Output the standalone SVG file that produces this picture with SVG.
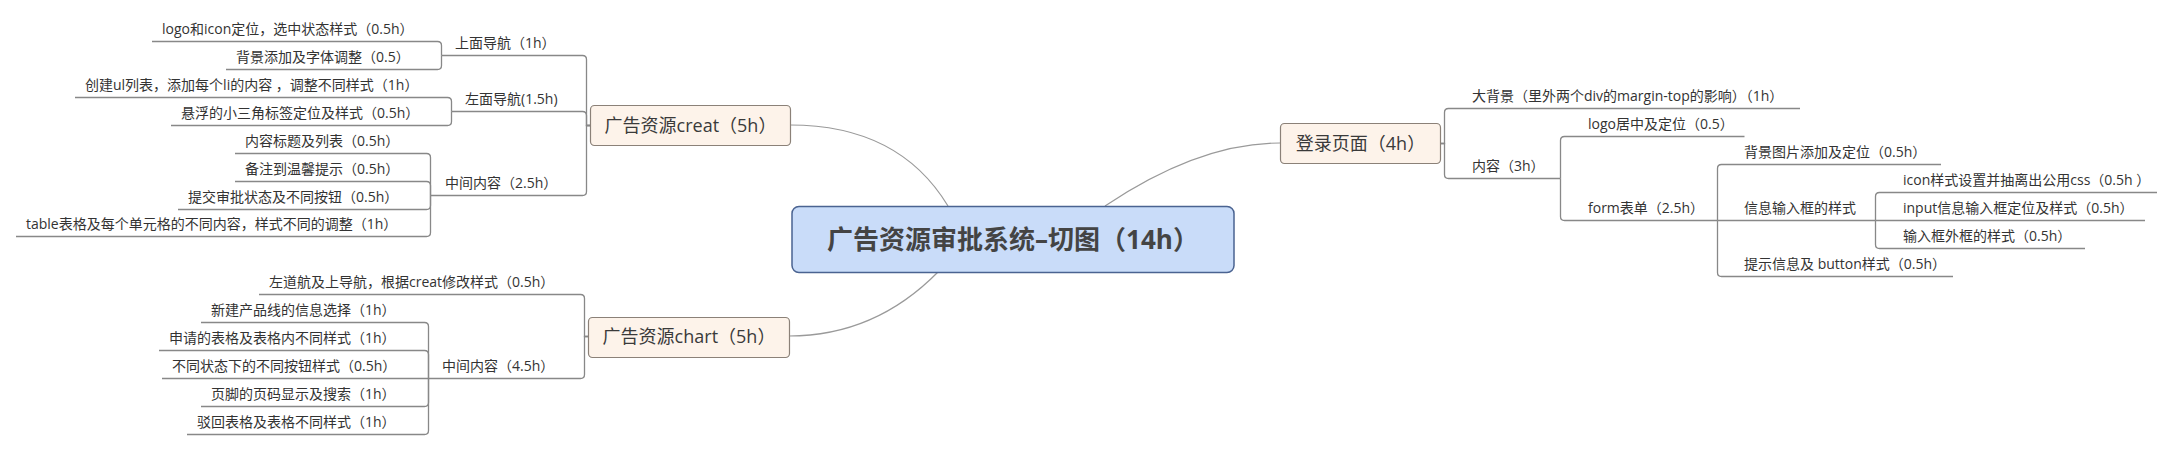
<svg xmlns="http://www.w3.org/2000/svg" width="2173" height="450" viewBox="0 0 2173 450">
<style>
text{font-family:"Open Sans","Noto Sans CJK SC",sans-serif;fill:#333}
.leaf{font-size:14px}
.l1{font-size:18px;fill:#3a3a3a;text-anchor:middle}
.root{font-size:26px;font-weight:bold;fill:#444;text-anchor:middle}
.box{fill:#fdf3ea;stroke:#8b8178;stroke-width:1.2}
.br{fill:none;stroke:#888;stroke-width:1.3}
.cv{fill:none;stroke:#9a9a9a;stroke-width:1.2}
</style>
<rect width="2173" height="450" fill="#fff"/>
<g id="connectors">
<path class="cv" d="M948 206 Q899 125 790 125"/>
<path class="cv" d="M1105 206 Q1199 143 1280 143"/>
<path class="cv" d="M938 272 Q875 336 789 336"/>
<path class="br" d="M590 125.5 H586.5 V59.5 Q586.5 55.5 582.5 55.5 H441.5"/>
<path class="br" d="M590 125.5 H586.5 V115.5 Q586.5 111.5 582.5 111.5 H451.5"/>
<path class="br" d="M590 125.5 H586.5 V191.5 Q586.5 195.5 582.5 195.5 H430.5"/>
<path class="br" d="M441.5 55.5 V45.5 Q441.5 41.5 437.5 41.5 H152"/>
<path class="br" d="M441.5 55.5 V65.5 Q441.5 69.5 437.5 69.5 H226"/>
<path class="br" d="M451.5 111.5 V101.5 Q451.5 97.5 447.5 97.5 H75"/>
<path class="br" d="M451.5 111.5 V121.5 Q451.5 125.5 447.5 125.5 H171"/>
<path class="br" d="M430.5 195.5 V157.5 Q430.5 153.5 426.5 153.5 H235"/>
<path class="br" d="M430.5 195.5 V185.5 Q430.5 181.5 426.5 181.5 H235"/>
<path class="br" d="M430.5 195.5 V205.5 Q430.5 209.5 426.5 209.5 H178"/>
<path class="br" d="M430.5 195.5 V232.5 Q430.5 236.5 426.5 236.5 H16"/>
<path class="br" d="M588 336.5 H584.5 V298.5 Q584.5 294.5 580.5 294.5 H259"/>
<path class="br" d="M588 336.5 H584.5 V374.5 Q584.5 378.5 580.5 378.5 H428.5"/>
<path class="br" d="M428.5 378.5 V326.5 Q428.5 322.5 424.5 322.5 H201"/>
<path class="br" d="M428.5 378.5 V354.5 Q428.5 350.5 424.5 350.5 H159"/>
<path class="br" d="M428.5 378.5 H162"/>
<path class="br" d="M428.5 378.5 V402.5 Q428.5 406.5 424.5 406.5 H201"/>
<path class="br" d="M428.5 378.5 V430.5 Q428.5 434.5 424.5 434.5 H187"/>
<path class="br" d="M1440 143.5 H1444.5 V112.5 Q1444.5 108.5 1448.5 108.5 H1800"/>
<path class="br" d="M1440 143.5 H1444.5 V174.5 Q1444.5 178.5 1448.5 178.5 H1560.5"/>
<path class="br" d="M1560.5 178.5 V140.5 Q1560.5 136.5 1564.5 136.5 H1744.5"/>
<path class="br" d="M1560.5 178.5 V216.5 Q1560.5 220.5 1564.5 220.5 H1717.5"/>
<path class="br" d="M1717.5 220.5 V168.5 Q1717.5 164.5 1721.5 164.5 H1941"/>
<path class="br" d="M1717.5 220.5 H1875.5"/>
<path class="br" d="M1717.5 220.5 V272.5 Q1717.5 276.5 1721.5 276.5 H1953"/>
<path class="br" d="M1875.5 220.5 V196.5 Q1875.5 192.5 1879.5 192.5 H2157"/>
<path class="br" d="M1875.5 220.5 H2145"/>
<path class="br" d="M1875.5 220.5 V244.5 Q1875.5 248.5 1879.5 248.5 H2085"/>
</g>
<g id="root">
<rect x="792" y="206.5" width="442" height="66" rx="7" fill="#c9dcf9" stroke="#4a6391" stroke-width="1.5"/>
<text class="root" x="1013" y="249">广告资源审批系统–切图（14h）</text>
</g>
<g id="creat">
<rect class="box" x="590.5" y="105.5" width="200" height="40" rx="4"/>
<text class="l1" x="690.5" y="131.5">广告资源creat（5h）</text>
</g>
<g id="chart">
<rect class="box" x="588.5" y="317.5" width="201" height="40" rx="4"/>
<text class="l1" x="689" y="343">广告资源chart（5h）</text>
</g>
<g id="login">
<rect class="box" x="1280.5" y="123.5" width="160" height="40" rx="4"/>
<text class="l1" x="1360.5" y="149.5">登录页面（4h）</text>
</g>
<g id="creat-top"><text class="leaf" x="455" y="47.5">上面导航（1h）</text></g>
<g id="creat-top-1"><text class="leaf" x="162" y="33.5">logo和icon定位，选中状态样式（0.5h）</text></g>
<g id="creat-top-2"><text class="leaf" x="236" y="61.5">背景添加及字体调整（0.5）</text></g>
<g id="creat-left"><text class="leaf" x="465" y="103.5">左面导航(1.5h)</text></g>
<g id="creat-left-1"><text class="leaf" x="85" y="89.5">创建ul列表，添加每个li的内容 ，调整不同样式（1h）</text></g>
<g id="creat-left-2"><text class="leaf" x="181" y="117.5">悬浮的小三角标签定位及样式（0.5h）</text></g>
<g id="creat-mid"><text class="leaf" x="445" y="187.5">中间内容（2.5h）</text></g>
<g id="creat-mid-1"><text class="leaf" x="245" y="145.5">内容标题及列表（0.5h）</text></g>
<g id="creat-mid-2"><text class="leaf" x="245" y="173.5">备注到温馨提示（0.5h）</text></g>
<g id="creat-mid-3"><text class="leaf" x="188" y="201.5">提交审批状态及不同按钮（0.5h）</text></g>
<g id="creat-mid-4"><text class="leaf" x="26" y="228.5">table表格及每个单元格的不同内容，样式不同的调整（1h）</text></g>
<g id="chart-nav"><text class="leaf" x="269" y="286.5">左道航及上导航，根据creat修改样式（0.5h）</text></g>
<g id="chart-mid"><text class="leaf" x="442" y="370.5">中间内容（4.5h）</text></g>
<g id="chart-mid-1"><text class="leaf" x="211" y="314.5">新建产品线的信息选择（1h）</text></g>
<g id="chart-mid-2"><text class="leaf" x="169" y="342.5">申请的表格及表格内不同样式（1h）</text></g>
<g id="chart-mid-3"><text class="leaf" x="172" y="370.5">不同状态下的不同按钮样式（0.5h）</text></g>
<g id="chart-mid-4"><text class="leaf" x="211" y="398.5">页脚的页码显示及搜索（1h）</text></g>
<g id="chart-mid-5"><text class="leaf" x="197" y="426.5">驳回表格及表格不同样式（1h）</text></g>
<g id="login-bg"><text class="leaf" x="1472" y="100.5">大背景（里外两个div的margin-top的影响）（1h）</text></g>
<g id="login-content"><text class="leaf" x="1472" y="170.5">内容（3h）</text></g>
<g id="login-logo"><text class="leaf" x="1588" y="128.5">logo居中及定位（0.5）</text></g>
<g id="login-form"><text class="leaf" x="1588" y="212.5">form表单（2.5h）</text></g>
<g id="form-bg"><text class="leaf" x="1744" y="156.5">背景图片添加及定位（0.5h）</text></g>
<g id="form-input"><text class="leaf" x="1744" y="212.5">信息输入框的样式</text></g>
<g id="form-tip"><text class="leaf" x="1744" y="268.5">提示信息及 button样式（0.5h）</text></g>
<g id="input-icon"><text class="leaf" x="1903" y="184.5">icon样式设置并抽离出公用css（0.5h ）</text></g>
<g id="input-pos"><text class="leaf" x="1903" y="212.5">input信息输入框定位及样式（0.5h）</text></g>
<g id="input-frame"><text class="leaf" x="1903" y="240.5">输入框外框的样式（0.5h）</text></g>
</svg>
